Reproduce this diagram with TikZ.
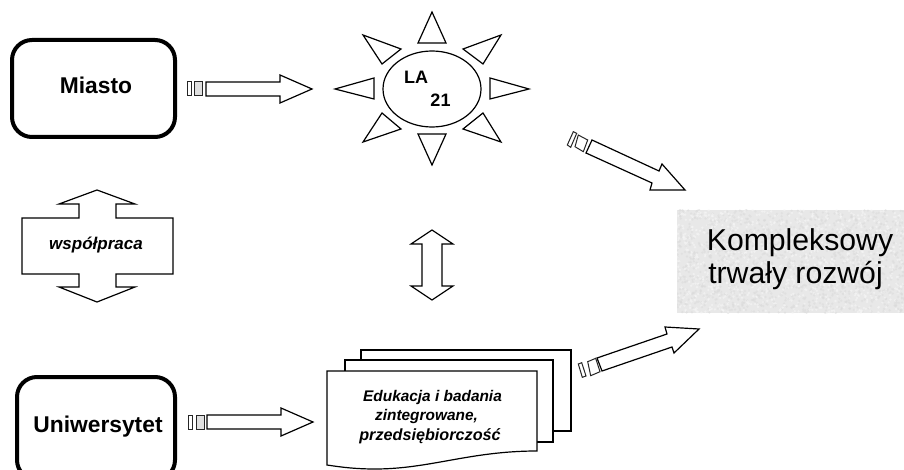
\documentclass[tikz,border=0pt]{standalone}
\usepackage{fontspec}
\setmainfont{Liberation Sans}
\tikzset{
  shape line/.style={draw=black,line width=1.2pt,line join=miter,fill=white},
  city box/.style={draw=black,line width=4pt,rounded corners=20pt},
  txt/.style={inner sep=0pt,outer sep=0pt,anchor=base,align=center},
  bigbold/.style={txt,font=\fontsize{22.8}{26}\selectfont\bfseries},
  sunbold/.style={txt,font=\fontsize{18}{21}\selectfont\bfseries},
  itbold/.style={txt,font=\fontsize{15.4}{18}\selectfont\bfseries\itshape},
  goal/.style={txt,font=\fontsize{30.2}{32}\selectfont},
  stub/.style={draw=black!85,line width=1pt,fill=white},
  segment/.style={stub,fill=black!12}
}
\begin{document}
\begin{tikzpicture}[x=1pt,y=-1pt]
\useasboundingbox (0,0) rectangle (904,470);
\fill[white] (0,0) rectangle (904,470);
\clip (0,0) rectangle (904,470);

% boxes
\draw[city box] (12,40) rectangle (175,137);
\node[bigbold] (miasto) at (96,94) {Miasto};
\draw[city box] (17,377) rectangle (175,480);
\node[bigbold] (uni) at (98,432) {Uniwersytet};

% horizontal arrows
\draw[stub] (187,82) rectangle (191,96);
\draw[segment] (194,82) rectangle (202,96);
\draw[shape line] (206,82) -- (280,82) -- (280,75) -- (312,89) -- (280,103) -- (280,96) -- (206,96) -- cycle;
\draw[stub] (188,415) rectangle (192,429);
\draw[segment] (196,415) rectangle (204,429);
\draw[shape line] (207,415) -- (281,415) -- (281,408) -- (313,422) -- (281,436) -- (281,429) -- (207,429) -- cycle;

% cooperation arrow
\draw[shape line] (97,190) -- (135,204) -- (116,204) -- (116,218) -- (173,218) -- (173,274) -- (116,274) -- (116,287) -- (135,287) -- (97,302) -- (59,287) -- (79,287) -- (79,274) -- (22,274) -- (22,218) -- (79,218) -- (79,204) -- (59,204) -- cycle;
\node[txt,font=\fontsize{17}{20}\selectfont\bfseries\itshape] (wsp) at (96,250) {współpraca};

% sun
\draw[shape line] (432,89) ellipse [x radius=49,y radius=38];
\draw[shape line] (432,12) -- (446,43) -- (418,43) -- cycle;
\draw[shape line] (432,165) -- (446,134) -- (418,134) -- cycle;
\draw[shape line] (335,89) -- (374,78) -- (374,99) -- cycle;
\draw[shape line] (529,89) -- (490,78) -- (490,99) -- cycle;
\draw[shape line] (363,35) -- (401,49) -- (382,64) -- cycle;
\draw[shape line] (501,35) -- (463,49) -- (483,64) -- cycle;
\draw[shape line] (363,142) -- (401,129) -- (382,113) -- cycle;
\draw[shape line] (501,142) -- (463,129) -- (483,113) -- cycle;
\node[sunbold] (la) at (416,84) {LA};
\node[sunbold] (n21) at (440.5,107) {21};

% vertical double arrow
\draw[shape line] (432,230) -- (453,244) -- (442,244) -- (442,286) -- (453,286) -- (432,300) -- (411,286) -- (422,286) -- (422,244) -- (411,244) -- cycle;

% documents
\draw[shape line] (361,350) rectangle (571,431);
\draw[shape line] (345,360) rectangle (553,442);
\draw[shape line] (327,371) -- (537,371) -- (537,451) .. controls (470,451) and (430,469) .. (375,469) .. controls (355,469) and (340,467) .. (327,465) -- cycle;
\node[itbold] (d1) at (432.5,401) {Edukacja i badania};
\node[itbold] (d2) at (426.5,420) {zintegrowane,};
\node[itbold,font=\fontsize{16.2}{18}\selectfont\bfseries\itshape] (d3) at (430,440) {przedsiębiorczość};

% diagonal arrows
\draw[stub] (573.3,131.7) -- (576.7,133.3) -- (570.7,147.3) -- (567.3,145) -- cycle;
\draw[stub] (578.3,135) -- (587.7,140) -- (583.3,151.7) -- (575,146.7) -- cycle;
\draw[shape line] (592,140) -- (659,171) -- (662,164) -- (685,190) -- (650,190) -- (652,183) -- (586,153) -- cycle;

\draw[stub] (578.3,364) -- (581.7,362.7) -- (586,376) -- (582.3,377.3) -- cycle;
\draw[stub] (587.7,361.7) -- (595.7,358.3) -- (600,371.7) -- (590.7,375.7) -- cycle;
\draw[shape line] (597,358) -- (667,334) -- (665,327) -- (699,329) -- (674,353) -- (672,347) -- (602,371) -- cycle;

% goal
\fill[black!9] (677,210) rectangle (904,313);
\begin{scope}
\clip (677,210) rectangle (904,313);
\pgfmathsetseed{42}
\foreach \i in {1,...,2400}{
  \pgfmathsetmacro{\px}{677+227*rnd}
  \pgfmathsetmacro{\py}{210+103*rnd}
  \pgfmathsetmacro{\sh}{ifthenelse(rnd>0.55,3,14)}
  \fill[black!\sh,opacity=0.55] (\px,\py) circle (1.3);
}
\end{scope}
\node[goal] (g1) at (800,251) {Kompleksowy};
\node[goal] (g2) at (795.5,283) {trwały rozwój};
\end{tikzpicture}
\end{document}
